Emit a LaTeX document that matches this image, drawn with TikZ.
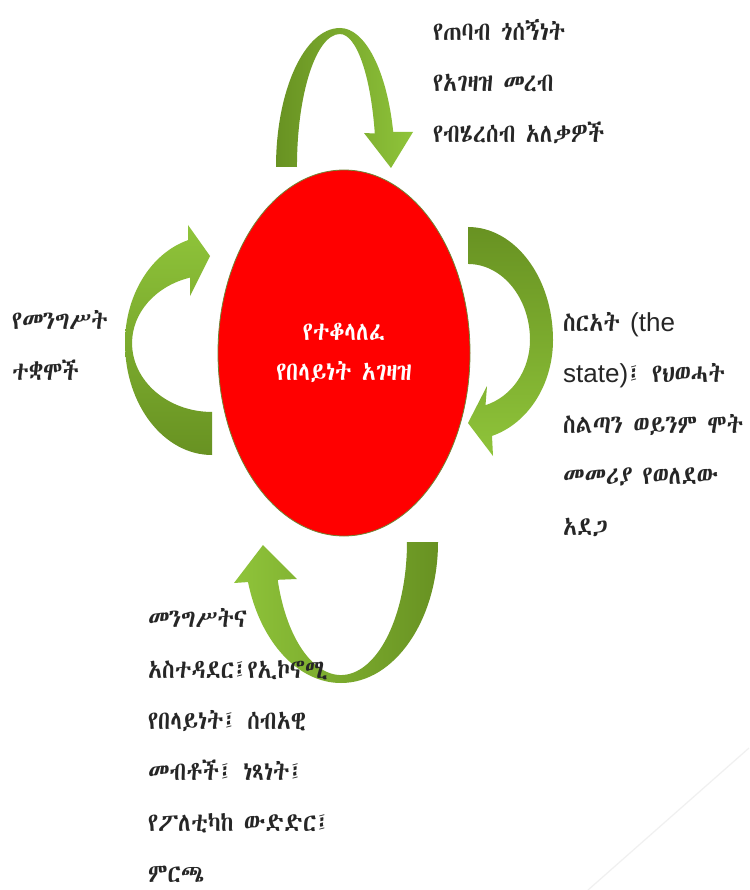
\documentclass[tikz,border=0pt]{standalone}
\usepackage{fontspec}
\setmainfont{Liberation Sans}
\IfFontExistsTF{Abyssinica SIL}{\newfontfamily\ethfont[FakeStretch=0.88]{Abyssinica SIL}}{%
  \IfFontExistsTF{FreeSerif}{\newfontfamily\ethfont[FakeStretch=0.88]{FreeSerif}}{\newfontfamily\ethfont{DejaVu Sans}}}
\usetikzlibrary{shapes.geometric}
\definecolor{leafdark}{RGB}{104,146,34}
\definecolor{leaflight}{RGB}{143,196,58}
\definecolor{inkgray}{RGB}{38,38,38}
\definecolor{rimgreen}{RGB}{112,132,52}
\tikzset{
  sidenote/.style={anchor=north west,inner sep=0pt,align=left,text=inkgray,
    font=\ethfont\fontsize{26}{51}\selectfont},
  ball/.style={ellipse,draw=rimgreen,line width=0.8pt,fill=red,
    minimum width=252pt,minimum height=366pt,inner sep=0pt,align=center,text=white,
    font=\ethfont\fontsize{26}{40}\selectfont}
}

\begin{document}
\begin{tikzpicture}[x=1pt,y=-1pt]
\useasboundingbox (0,0) rectangle (749,890);
\fill[white] (0,0) rectangle (749,890);
\draw[gray!12,line width=1.2pt] (588,890) -- (749,748);

\shade[left color=leafdark,right color=leaflight] (297,167) -- (276,167)
  arc[start angle=180,end angle=270,x radius=64,y radius=139]
  arc[start angle=270,end angle=345.4,x radius=55,y radius=139]
  -- (413,132) -- (391,168) -- (364,133) -- (374.8,133.5)
  arc[start angle=345.4,end angle=270,x radius=36,y radius=133]
  arc[start angle=270,end angle=180,x radius=43,y radius=133] -- cycle;
\shade[top color=leafdark,bottom color=leaflight] (468,264) -- (468,227)
  arc[start angle=270,end angle=360,x radius=85,y radius=113]
  arc[start angle=0,end angle=73.6,x radius=85,y radius=100]
  -- (493,456) -- (468,423) -- (487,386) -- (485.5,405.2)
  arc[start angle=73.6,end angle=0,x radius=62,y radius=68]
  arc[start angle=360,end angle=270,x radius=62,y radius=76] -- cycle;
\shade[left color=leaflight,right color=leafdark] (407,542) -- (438,542)
  arc[start angle=0,end angle=163.5,x radius=97,y radius=141]
  -- (234,583) -- (263,545) -- (297,579) -- (277.7,579.8)
  arc[start angle=163.5,end angle=0,x radius=66,y radius=133] -- cycle;
\shade[top color=leaflight,bottom color=leafdark] (212,412) -- (212,455)
  arc[start angle=90,end angle=180,x radius=87,y radius=112]
  arc[start angle=180,end angle=254,x radius=87,y radius=107]
  -- (188,225) -- (210,256) -- (190,296) -- (190,277.6)
  arc[start angle=254,end angle=180,x radius=80,y radius=68]
  arc[start angle=180,end angle=90,x radius=80,y radius=69] -- cycle;

\node[ball] (core) at (344,353) {የተቆላለፈ\\የበላይነት አገዛዝ};

\node[sidenote] (tribes) at (433,19) {የጠባብ ጎሰኝነት\\የአገዛዝ መረብ\\የብሄረሰብ አለቃዎች};
\node[sidenote] (institutions) at (12,310) {የመንግሥት\\ተቋሞች};
\node[sidenote] (statenote) at (563,312) {ስርአት {\rmfamily(the}\\{\rmfamily state)}፤ የህወሓት\\ስልጣን ወይንም ሞት\\መመሪያ የወለደው\\አደጋ};
\node[sidenote] (rights) at (148,608) {መንግሥትና\\አስተዳደር፤የኢኮኖሚ\\የበላይነት፤ ሰብአዊ\\መብቶች፤ ነጻነት፤\\የፖለቲካከ ውድድር፤\\ምርጫ};
\end{tikzpicture}
\end{document}
